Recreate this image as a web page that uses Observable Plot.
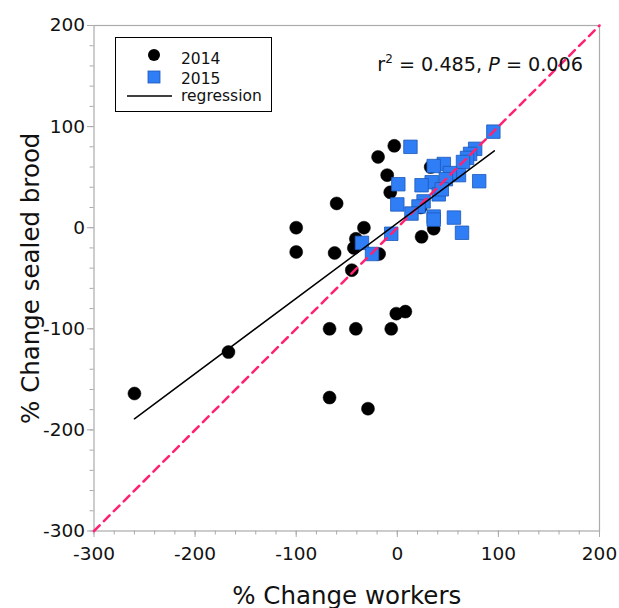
<!DOCTYPE html>
<html>
<head>
<meta charset="utf-8">
<script src="https://cdn.jsdelivr.net/npm/d3@7"></script>
<script src="https://cdn.jsdelivr.net/npm/@observablehq/plot@0.6"></script>
<style>
  html, body { margin: 0; padding: 0; background: #fff; }
  #wrap { position: relative; width: 619px; height: 608px; overflow: hidden; font-family: "DejaVu Sans", sans-serif; }
  #legend { position: absolute; left: 115px; top: 37px; width: 155px; height: 73px; border: 1.5px solid #000; background: #fff; font-size: 15.5px; color: #111; }
  #legend .row { position: absolute; left: 0; height: 20px; line-height: 20px; }
  #legend .row span { position: absolute; left: 65px; white-space: nowrap; }
  #legend svg { position: absolute; left: 0; top: 0; }
  #stat { position: absolute; right: 36px; top: 53px; font-size: 19.2px; color: #111; white-space: nowrap; }
  #stat sup { font-size: 12px; vertical-align: 8px; line-height: 0; }
</style>
</head>
<body>
<div id="wrap"></div>
<script>
// ---- data ----
const workers2014 = [-260, -167, -100, -100, -60, -62, -67, -41, -6, -67, -29, -45, -1, 8, -33, -41, -43, -18, -7, -10, -19, -3, 24, 36, 33, 23];
const brood2014   = [-164, -123,    0,  -24,  24, -25, -100, -100, -100, -168, -179, -42, -85, -83, 0, -11, -20, -26, 35, 52, 70, 81, -9, -1, 60, 20];

const workers2015 = [95, 13, 77, 72, 69, 65, 46, 36, 81, 61, 52, 48, 34, 24, 41, 44, 1, 0, 26, 21, 14, 36, 36, 56, 64, -6, -35, -25];
const brood2015   = [95, 80, 78, 73, 69, 65, 63, 61, 46, 52, 54, 48, 45, 42, 33, 38, 43, 23, 26, 21, 14, 11,  8, 10, -5, -6, -15, -26];

const regressionX = [-260, 96];
const regressionY = [-189, 76];

const identityX = [-300, 200];
const identityY = [-300, 200];

const majorTicks = [-300, -200, -100, 0, 100, 200];
const minorTicks = d3.range(-300, 201, 20);

const seriesLabels = ["2014", "2015", "regression"];
const xTitle = "% Change workers";
const yTitle = "% Change sealed brood";

// ---- build tables ----
const d2014 = workers2014.map((w, i) => ({x: w, y: brood2014[i]}));
const d2015 = workers2015.map((w, i) => ({x: w, y: brood2015[i]}));
const reg = regressionX.map((x, i) => ({x, y: regressionY[i]}));
const ident = identityX.map((x, i) => ({x, y: identityY[i]}));

const axisColor = "#ababab";
const fmt = d => String(d);

const chart = Plot.plot({
  width: 619,
  height: 608,
  marginLeft: 93.5,
  marginRight: 20,
  marginTop: 25,
  marginBottom: 77.5,
  style: {fontFamily: "DejaVu Sans, sans-serif", fontSize: "18.5px", color: "#111", background: "#fff", overflow: "visible"},
  x: {domain: [-300, 200]},
  y: {domain: [-300, 200]},
  marks: [
    Plot.frame({stroke: axisColor, strokeWidth: 1.2}),
    Plot.axisX({ticks: minorTicks, tickSize: 4, tickFormat: () => "", stroke: axisColor, label: null}),
    Plot.axisY({ticks: minorTicks, tickSize: 4, tickFormat: () => "", stroke: axisColor, label: null}),
    Plot.axisX({ticks: majorTicks, tickSize: 6.5, tickPadding: 9, tickFormat: fmt, stroke: axisColor, fill: "#111",
                label: xTitle, labelAnchor: "center", labelArrow: "none", labelOffset: 72.5, fontSize: 18.5}),
    Plot.axisY({ticks: majorTicks, tickSize: 6.5, tickPadding: 2.5, tickFormat: fmt, stroke: axisColor, fill: "#111",
                label: yTitle, labelAnchor: "center", labelArrow: "none", labelOffset: 72.5, fontSize: 18.5}),
    Plot.dot(d2014, {x: "x", y: "y", r: 6.5, fill: "#000", stroke: "#000", strokeWidth: 0.5}),
    Plot.dot(d2015, {x: "x", y: "y", r: 7.6, symbol: "square", fill: "#2f7ef5", stroke: "#1d58b8", strokeWidth: 0.8}),
    Plot.line(ident, {x: "x", y: "y", stroke: "#ff2272", strokeWidth: 2.5, strokeDasharray: "8,6"}),
    Plot.line(reg, {x: "x", y: "y", stroke: "#000", strokeWidth: 1.5})
  ]
});

const wrap = document.getElementById("wrap");
wrap.appendChild(chart);

// larger axis titles
chart.querySelectorAll("g[aria-label='x-axis label'] text, g[aria-label='y-axis label'] text").forEach(t => t.setAttribute("font-size", "24.5"));

// legend overlay
const legend = document.createElement("div");
legend.id = "legend";
legend.innerHTML = `
  <svg width="155" height="73">
    <circle cx="38" cy="17" r="6" fill="#000"/>
    <rect x="32" y="33" width="12" height="12" fill="#2f7ef5" stroke="#1d58b8" stroke-width="0.8"/>
    <line x1="11" x2="56" y1="58" y2="58" stroke="#000" stroke-width="1.3"/>
  </svg>
  <div class="row" style="top:11px"><span>${seriesLabels[0]}</span></div>
  <div class="row" style="top:31px"><span>${seriesLabels[1]}</span></div>
  <div class="row" style="top:48px"><span>${seriesLabels[2]}</span></div>`;
wrap.appendChild(legend);

const stat = document.createElement("div");
stat.id = "stat";
stat.innerHTML = `r<sup>2</sup> = 0.485, <i>P</i> = 0.006`;
wrap.appendChild(stat);
</script>
</body>
</html>
